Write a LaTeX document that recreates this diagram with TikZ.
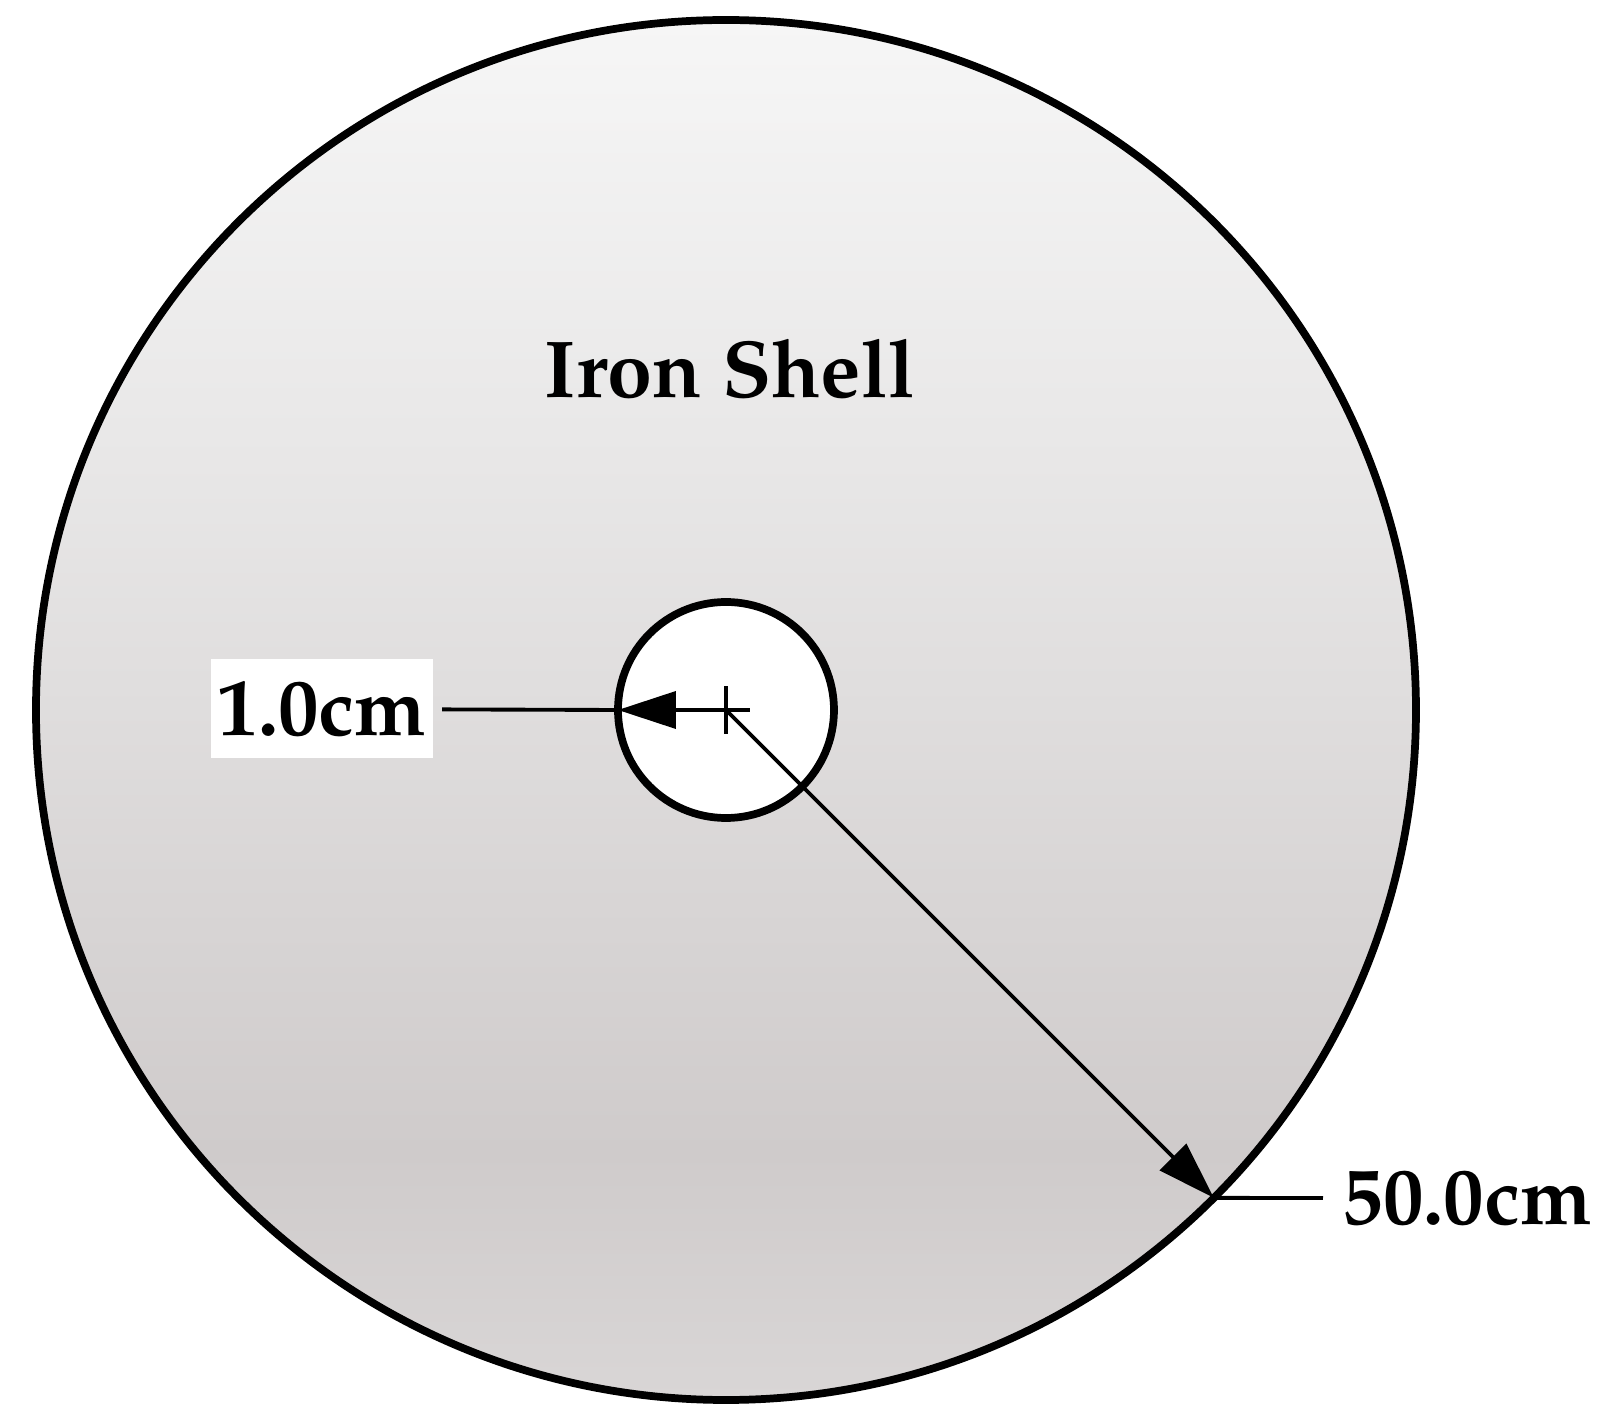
\documentclass[tikz,border=0pt]{standalone}
\usepackage[T1]{fontenc}
\usepackage{mathpazo}
\usepackage{xcolor}
\usepackage{tikz}
\usetikzlibrary{arrows.meta,calc,positioning}
\definecolor{shelltop}{RGB}{246,246,246}
\definecolor{shellmid}{RGB}{232,231,231}
\definecolor{shelldark}{RGB}{207,203,203}
\definecolor{shellbot}{RGB}{217,214,214}
\pgfdeclareverticalshading{ironshade}{100bp}{color(0bp)=(shellbot); color(25bp)=(shellbot); color(34bp)=(shelldark); color(59bp)=(shellmid); color(75bp)=(shelltop); color(100bp)=(shelltop)}

\begin{document}
\begin{tikzpicture}

    \tikzstyle{every edge}=[-,draw,line width=1.1pt]
    \tikzstyle{ring}=[circle, draw, line width=2.2pt, inner sep=0pt, outer sep=0pt]
    \tikzstyle{dim}=[-{Triangle[length=0.58cm,width=0.37cm]}, line width=1.1pt]
    \tikzstyle{lbl}=[font=\fontsize{23}{27}\selectfont\bfseries, inner sep=2pt]

    \useasboundingbox (-7.26,-7.10) rectangle (8.81,7.10);

    \node[ring, minimum size=13.80cm, shading=ironshade] (shell) at (0,0) {};
    \node[ring, minimum size=2.16cm, fill=white] (hole) at (0,0) {};
    \coordinate (c) at (0,0);

    \node[lbl, anchor=base] (title) at (0.04,3.12) {Iron Shell};
    \node[lbl, fill=white, minimum width=2.17cm, minimum height=0.99cm] (r1) at (-4.04,0.01) {1.0cm};
    \node[lbl, anchor=west] (r2) at (6.09,-4.88) {50.0cm};

    % centre mark
    \draw[line width=1.1pt] ($(c)+(-0.24,0)$) -- ($(c)+(0.24,0)$);
    \draw[line width=1.1pt] ($(c)+(0,-0.24)$) -- ($(c)+(0,0.24)$);

    \path (r1) edge [shorten <=0.08cm] (hole.west);
    \draw[dim] (c) -- (hole.west);

    \draw[dim] (c) -- (shell.-45);
    \path (shell.-45) edge [shorten >=0.12cm] (r2.west);
\end{tikzpicture}
\end{document}
